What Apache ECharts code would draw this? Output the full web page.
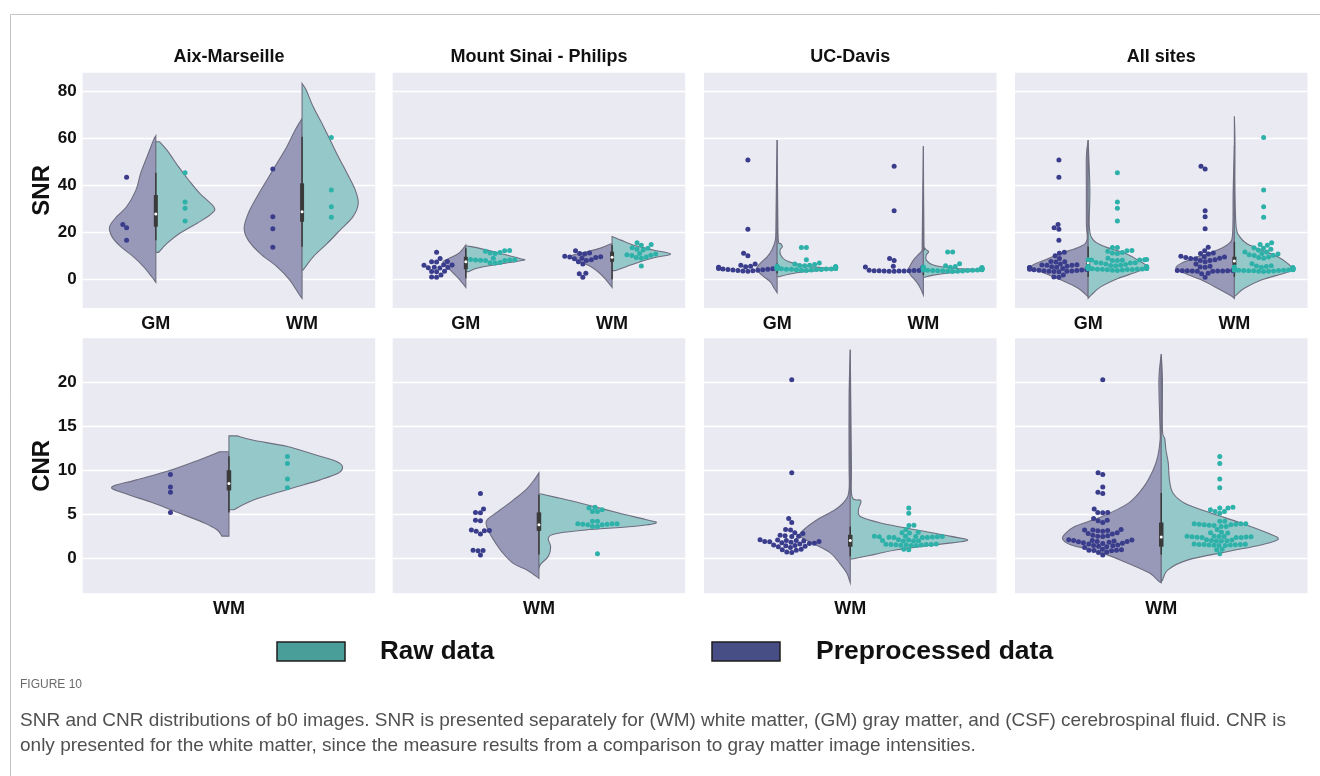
<!DOCTYPE html>
<html>
<head>
<meta charset="utf-8">
<script src="https://cdn.jsdelivr.net/npm/echarts@6/dist/echarts.min.js"></script>
<style>
  html, body { margin: 0; padding: 0; background: #ffffff; }
  #chart { width: 1320px; height: 776px; }
</style>
</head>
<body>
<div id="chart"></div>
<script>
// ---------- categories, ticks, labels ----------
const sites = ['Aix-Marseille', 'Mount Sinai - Philips', 'UC-Davis', 'All sites'];
const snrTissues = ['GM', 'WM'];
const cnrTissues = ['WM'];
const measureNames = ['SNR', 'CNR'];
const snrTicks = [0, 20, 40, 60, 80];
const cnrTicks = [0, 5, 10, 15, 20];
const snrRange = [-12.2, 88];
const cnrRange = [-4, 25];
const hueNames = ['Raw data', 'Preprocessed data'];

// ---------- per-subject values (swarm points) ----------
const aixSnrGmRaw = [45.4, 32.9, 30.3, 24.8];
const aixSnrGmPre = [43.5, 23.4, 22.0, 16.6];
const aixSnrWmRaw = [60.4, 38.0, 30.9, 26.4];
const aixSnrWmPre = [47.0, 26.7, 21.5, 13.7];
const aixCnrRaw = [11.55, 10.75, 9.0, 8.0];
const aixCnrPre = [9.5, 8.1, 7.5, 5.2];

const sinaiSnrGmRaw = [12.3, 12.2, 12.0, 11.4, 11.2, 11.0, 9.0, 8.4, 8.3, 8.2, 8.2, 8.1, 8.0, 8.0, 7.2, 7.1, 7.0];
const sinaiSnrGmPre = [11.5, 8.9, 7.6, 7.5, 7.4, 6.2, 6.1, 6.0, 5.1, 5.0, 4.9, 4.8, 3.4, 3.3, 3.2, 1.9, 1.0, 0.9];
const sinaiSnrWmRaw = [15.6, 14.8, 14.5, 13.5, 13.2, 12.8, 12.5, 11.0, 10.8, 10.5, 10.3, 10.2, 9.5, 9.3, 9.0, 5.7];
const sinaiSnrWmPre = [12.2, 11.2, 11.0, 10.8, 9.8, 9.6, 9.5, 9.3, 9.0, 8.8, 8.3, 8.0, 7.5, 6.5, 2.6, 2.4, 0.9];
const sinaiCnrRaw = [5.8, 5.7, 5.5, 5.3, 5.3, 4.2, 4.2, 3.9, 3.9, 3.9, 3.85, 3.85, 3.8, 3.8, 3.6, 3.6, 0.5];
const sinaiCnrPre = [7.35, 5.6, 5.2, 5.15, 4.3, 4.25, 3.2, 3.15, 3.1, 3.05, 2.75, 0.9, 0.88, 0.85, 0.35];

const davisSnrGmRaw = [13.6, 13.6, 8.3, 7.0, 6.5, 6.3, 6.0, 5.9, 5.8, 5.6, 5.5, 5.4, 5.3, 5.2, 5.1, 5.0, 4.9, 4.8, 4.8, 4.7, 4.6, 4.6, 4.5, 4.5, 4.4, 4.4, 4.3, 4.3, 4.2, 4.2, 4.1, 4.0, 3.9, 3.8];
const davisSnrGmPre = [50.8, 21.3, 11.1, 10.0, 6.5, 6.0, 5.6, 5.4, 5.2, 5.0, 4.9, 4.8, 4.6, 4.5, 4.4, 4.3, 4.2, 4.1, 4.0, 3.9, 3.8, 3.7, 3.6, 3.5];
const davisSnrWmRaw = [11.6, 11.6, 6.6, 5.8, 5.5, 5.3, 5.2, 5.0, 4.9, 4.8, 4.7, 4.6, 4.5, 4.5, 4.4, 4.4, 4.3, 4.3, 4.2, 4.2, 4.1, 4.1, 4.0, 4.0, 3.9, 3.9, 3.8, 3.8, 3.7, 3.7, 3.6, 3.5, 3.4, 3.3];
const davisSnrWmPre = [48.2, 29.2, 8.9, 8.0, 5.6, 5.3, 5.2, 3.9, 3.8, 3.8, 3.7, 3.7, 3.7, 3.6, 3.6, 3.6, 3.5, 3.5];
const davisCnrRaw = [5.7, 5.1, 3.75, 3.7, 3.25, 2.95, 2.9, 2.85, 2.5, 2.48, 2.46, 2.45, 2.44, 2.42, 2.4, 2.38, 2.36, 2.35, 2.34, 2.1, 2.05, 2.0, 1.98, 1.96, 1.95, 1.6, 1.58, 1.56, 1.55, 1.54, 1.52, 1.5, 1.48, 1.46, 1.45, 1.44, 1.0, 0.95];
const davisCnrPre = [20.3, 9.7, 4.5, 4.05, 3.25, 3.2, 2.9, 2.8, 2.6, 2.55, 2.5, 2.45, 2.1, 2.05, 2.0, 2.0, 1.95, 1.9, 1.9, 1.85, 1.8, 1.75, 1.7, 1.65, 1.6, 1.5, 1.45, 1.4, 1.35, 1.3, 1.2, 1.0, 0.95, 0.9, 0.7, 0.65];

// pooled over the three sites
const allSnrGmRaw = [].concat(aixSnrGmRaw, sinaiSnrGmRaw, davisSnrGmRaw);
const allSnrGmPre = [].concat(aixSnrGmPre, sinaiSnrGmPre, davisSnrGmPre);
const allSnrWmRaw = [].concat(aixSnrWmRaw, sinaiSnrWmRaw, davisSnrWmRaw);
const allSnrWmPre = [].concat(aixSnrWmPre, sinaiSnrWmPre, davisSnrWmPre);
const allCnrRaw = [].concat(aixCnrRaw, sinaiCnrRaw, davisCnrRaw);
const allCnrPre = [].concat(aixCnrPre, sinaiCnrPre, davisCnrPre);

// ---------- violin half profiles: [value, relative half width] ----------
const aixSnrGmPreKde = [[61.1,0],[59.3,.04],[52.2,.15],[45.1,.26],[38.0,.34],[30.9,.50],[26.7,.67],[22.4,.79],[18.2,.75],[13.9,.60],[9.6,.38],[5.4,.21],[1.1,.07],[-1.3,0]];
const aixSnrGmRawKde = [[58.6,.06],[55.0,.19],[47.9,.39],[42.3,.56],[36.6,.75],[30.9,.99],[28.1,.96],[23.8,.70],[19.6,.41],[15.3,.19],[11.5,.05]];
const aixSnrWmPreKde = [[68.5,0],[63.5,.12],[56.5,.26],[49.4,.43],[42.3,.60],[35.2,.77],[28.1,.92],[21.7,.99],[16.7,.92],[11.1,.72],[5.4,.43],[-0.3,.21],[-6.0,.06],[-8.1,0]];
const aixSnrWmRawKde = [[83.4,0],[80.6,.07],[73.5,.19],[66.4,.34],[59.3,.48],[52.2,.62],[45.1,.77],[38.0,.91],[32.3,.96],[26.7,.87],[21.0,.65],[15.3,.43],[9.6,.19],[4.0,.02]];
const aixCnrPreKde = [[12.1,.08],[11.2,.25],[10.0,.50],[8.9,.79],[8.1,1.0],[7.4,.90],[6.25,.64],[5.1,.42],[4.0,.21],[3.2,.10],[2.5,.06]];
const aixCnrRawKde = [[13.9,.07],[13.4,.21],[12.7,.50],[11.7,.75],[11.0,.92],[10.4,.97],[9.7,.94],[8.9,.78],[7.8,.50],[6.6,.21],[5.5,.04]];

const sinaiSnrGmPreKde = [[14.6,0],[11.1,.12],[8.9,.29],[7.5,.39],[5.4,.32],[2.6,.21],[-0.3,.10],[-3.4,0]];
const sinaiSnrGmRawKde = [[14.2,.03],[13.2,.24],[11.1,.58],[8.9,.92],[8.2,1.0],[7.2,.75],[6.1,.48],[4.7,.19],[3.3,.05]];
const sinaiSnrWmPreKde = [[15.3,0],[13.2,.21],[11.1,.55],[9.6,.72],[7.5,.55],[5.4,.36],[2.6,.21],[-0.3,.10],[-3.4,0]];
const sinaiSnrWmRawKde = [[18.2,0],[16.7,.15],[14.6,.36],[12.5,.70],[10.8,1.0],[9.4,.75],[7.5,.48],[5.4,.24],[3.7,.05]];
const sinaiCnrPreKde = [[9.7,0],[8.9,.04],[7.8,.11],[6.6,.22],[5.5,.33],[4.4,.44],[3.8,.45],[2.8,.42],[1.7,.37],[0.6,.31],[-0.6,.22],[-1.3,.11],[-2.1,.02],[-2.3,0]];
const sinaiCnrRawKde = [[7.3,.02],[6.8,.18],[6.1,.40],[5.1,.69],[4.4,.91],[4.0,1.0],[3.6,.80],[3.2,.40],[2.8,.15],[2.3,.08],[1.3,.10],[0.2,.08],[-0.6,.02],[-1.1,0]];

const davisSnrGmPreKde = [[59.3,0],[45.1,.01],[23.8,.02],[16.7,.03],[12.5,.09],[9.6,.17],[6.8,.29],[4.3,.35],[1.8,.26],[-1.0,.12],[-3.8,.05],[-5.7,0]];
const davisSnrGmRawKde = [[59.3,0],[30.9,.01],[16.7,.02],[15.3,.06],[13.9,.09],[12.5,.05],[10.4,.06],[8.2,.14],[6.8,.29],[5.4,.56],[4.5,.99],[3.7,.68],[2.6,.29],[1.1,.03]];
const davisSnrWmPreKde = [[56.7,0],[16.7,.02],[12.5,.02],[10.4,.09],[8.2,.17],[6.1,.22],[4.0,.26],[1.8,.22],[-1.0,.12],[-3.8,.05],[-6.7,0]];
const davisSnrWmRawKde = [[56.7,0],[16.7,.01],[13.2,.03],[11.8,.09],[10.4,.05],[8.2,.05],[6.1,.17],[4.7,.51],[4.0,1.0],[3.0,.56],[1.8,.17],[0.9,.03]];
const davisCnrPreKde = [[23.7,0],[18.4,.01],[10.8,.01],[7.8,.01],[6.6,.04],[5.5,.13],[4.4,.28],[3.2,.40],[2.5,.43],[1.7,.32],[0.6,.17],[-0.6,.09],[-1.7,.03],[-2.8,0]];
const davisCnrRawKde = [[23.7,0],[10.8,.01],[7.0,.015],[6.55,.09],[5.5,.07],[4.7,.09],[4.0,.26],[3.2,.57],[2.5,.85],[2.0,1.0],[1.5,.71],[0.95,.40],[0.4,.20],[-0.1,.02]];

const allSnrGmPreKde = [[59.3,0],[52.2,.03],[38.0,.03],[23.8,.03],[16.7,.02],[13.9,.14],[11.1,.46],[8.2,.74],[5.4,.97],[2.6,.74],[-0.3,.46],[-3.8,.17],[-7.4,0]];
const allSnrGmRawKde = [[59.3,0],[38.0,.03],[22.4,.02],[16.7,.09],[13.9,.29],[11.1,.63],[8.2,.85],[5.4,1.0],[3.3,.85],[0.4,.51],[-3.1,.22],[-6.7,.05],[-8.1,0]];
const allSnrWmPreKde = [[57.2,0],[38.0,.02],[19.6,.03],[15.3,.09],[12.5,.29],[9.6,.63],[6.8,.91],[4.7,1.0],[2.6,.85],[-0.3,.56],[-3.8,.29],[-7.4,.03],[-8.1,0]];
const allSnrWmRawKde = [[69.5,0],[59.3,.01],[38.0,.01],[22.4,.03],[18.2,.09],[15.3,.21],[12.5,.46],[9.6,.74],[6.8,.91],[4.3,.99],[2.6,.85],[-0.3,.46],[-3.8,.17],[-6.7,.03],[-7.4,0]];
const allCnrPreKde = [[23.2,0],[20.3,.02],[14.6,.01],[13.4,.01],[11.55,.03],[10.0,.07],[8.1,.15],[6.25,.28],[4.7,.51],[3.6,.74],[2.65,.83],[2.1,.84],[1.5,.77],[0.6,.51],[-0.6,.28],[-1.7,.10],[-2.65,.02],[-2.8,0]];
const allCnrRawKde = [[23.2,0],[20.3,.01],[14.6,.01],[13.6,.03],[12.3,.04],[10.8,.06],[8.9,.07],[7.4,.10],[6.25,.20],[5.1,.43],[4.0,.68],[2.85,.91],[2.15,1.0],[1.5,.85],[0.75,.57],[-0.2,.23],[-1.3,.06],[-2.5,.01],[-2.65,0]];

// ---------- inner box: [lower whisker, Q1, median, Q3, upper whisker] ----------
const aixSnrGmBox = [16.7, 22.4, 27.8, 35.9, 45.4];
const aixSnrWmBox = [13.9, 24.5, 28.8, 40.9, 60.7];
const aixCnrBox = [5.2, 7.7, 8.5, 10.0, 11.6];
const sinaiSnrGmBox = [0.5, 4.3, 7.5, 9.6, 13.2];
const sinaiSnrWmBox = [0.0, 7.5, 9.4, 11.8, 14.6];
const sinaiCnrBox = [0.4, 3.1, 3.8, 5.2, 7.2];
const davisSnrGmBox = [2.6, 3.7, 4.5, 5.4, 6.8];
const davisSnrWmBox = [1.8, 3.3, 4.0, 4.7, 6.1];
const davisCnrBox = [0.2, 1.3, 2.0, 2.65, 3.6];
const allSnrGmBox = [1.0, 5.4, 7.1, 8.9, 14.0];
const allSnrWmBox = [1.1, 6.1, 7.8, 9.6, 16.0];
const allCnrBox = [0.4, 1.3, 2.4, 4.05, 7.4];

// ---------- panel assembly ----------
const panels = [
  { row: 0, col: 0, cats: snrTissues, raw: [aixSnrGmRaw, aixSnrWmRaw], pre: [aixSnrGmPre, aixSnrWmPre],
    rawKde: [aixSnrGmRawKde, aixSnrWmRawKde], preKde: [aixSnrGmPreKde, aixSnrWmPreKde], box: [aixSnrGmBox, aixSnrWmBox] },
  { row: 0, col: 1, cats: snrTissues, raw: [sinaiSnrGmRaw, sinaiSnrWmRaw], pre: [sinaiSnrGmPre, sinaiSnrWmPre],
    rawKde: [sinaiSnrGmRawKde, sinaiSnrWmRawKde], preKde: [sinaiSnrGmPreKde, sinaiSnrWmPreKde], box: [sinaiSnrGmBox, sinaiSnrWmBox] },
  { row: 0, col: 2, cats: snrTissues, raw: [davisSnrGmRaw, davisSnrWmRaw], pre: [davisSnrGmPre, davisSnrWmPre],
    rawKde: [davisSnrGmRawKde, davisSnrWmRawKde], preKde: [davisSnrGmPreKde, davisSnrWmPreKde], box: [davisSnrGmBox, davisSnrWmBox] },
  { row: 0, col: 3, cats: snrTissues, raw: [allSnrGmRaw, allSnrWmRaw], pre: [allSnrGmPre, allSnrWmPre],
    rawKde: [allSnrGmRawKde, allSnrWmRawKde], preKde: [allSnrGmPreKde, allSnrWmPreKde], box: [allSnrGmBox, allSnrWmBox] },
  { row: 1, col: 0, cats: cnrTissues, raw: [aixCnrRaw], pre: [aixCnrPre], rawKde: [aixCnrRawKde], preKde: [aixCnrPreKde], box: [aixCnrBox] },
  { row: 1, col: 1, cats: cnrTissues, raw: [sinaiCnrRaw], pre: [sinaiCnrPre], rawKde: [sinaiCnrRawKde], preKde: [sinaiCnrPreKde], box: [sinaiCnrBox] },
  { row: 1, col: 2, cats: cnrTissues, raw: [davisCnrRaw], pre: [davisCnrPre], rawKde: [davisCnrRawKde], preKde: [davisCnrPreKde], box: [davisCnrBox] },
  { row: 1, col: 3, cats: cnrTissues, raw: [allCnrRaw], pre: [allCnrPre], rawKde: [allCnrRawKde], preKde: [allCnrPreKde], box: [allCnrBox] }
];

// ---------- layout & style ----------
const FONT = "'Liberation Sans', Arial, sans-serif";
const CAPTION_FONT = "'Liberation Sans', Arial, sans-serif";
const colLeft = [82.7, 392.7, 704, 1015];
const panelWidth = 292.5;
const rowTop = [72.7, 338.3];
const rowHeight = [235.3, 255];
const rowTicks = [snrTicks, cnrTicks];
const rowRange = [snrRange, cnrRange];

const rawSwatch = '#4A9E9A', preSwatch = '#474E85';
const rawFill = '#95C9C9', preFill = '#9898B9';
const rawDot = '#2DB1A9', preDot = '#3A3C8C';
const outline = '#6E6E80';
const innerColor = '#3A3A3A';
const dotRadius = 2.5;
const dotGap = 5.0;
const dodgeShift = 0.2;   // hue offset, in category bands
const swarmHalfWidth = 0.2; // swarm gutter on each side of a hue centre, in category bands

// smooth half-violin outline through the profile points (pixel space)
function halfViolinPath(cx, pts, side) {
  const clampX = x => side > 0 ? Math.max(x, cx) : Math.min(x, cx);
  let d = 'M' + cx + ',' + pts[0][1] + 'L' + pts[0][0] + ',' + pts[0][1];
  for (let i = 0; i < pts.length - 1; i++) {
    const p0 = pts[Math.max(i - 1, 0)], p1 = pts[i], p2 = pts[i + 1], p3 = pts[Math.min(i + 2, pts.length - 1)];
    const c1x = clampX(p1[0] + (p2[0] - p0[0]) / 6), c1y = p1[1] + (p2[1] - p0[1]) / 6;
    const c2x = clampX(p2[0] - (p3[0] - p1[0]) / 6), c2y = p2[1] - (p3[1] - p1[1]) / 6;
    d += 'C' + c1x + ',' + c1y + ',' + c2x + ',' + c2y + ',' + p2[0] + ',' + p2[1];
  }
  d += 'L' + cx + ',' + pts[pts.length - 1][1] + 'Z';
  return d;
}

function violinRenderer(profiles, side, fill) {
  return function (params, api) {
    const cat = api.value(0);
    const prof = profiles[params.dataIndex];
    const half = 0.4 * api.size([1, 0])[0];
    const cx = api.coord([cat, prof[0][0]])[0];
    const pts = prof.map(function (p) {
      const c = api.coord([cat, p[0]]);
      return [cx + side * p[1] * half, c[1]];
    });
    return {
      type: 'path',
      shape: { pathData: halfViolinPath(cx, pts, side) },
      style: { fill: fill, stroke: outline, lineWidth: 1.1 }
    };
  };
}

function boxRenderer(boxWidth) {
  return function (params, api) {
    const cat = api.value(0);
    const lo = api.coord([cat, api.value(1)]);
    const q1 = api.coord([cat, api.value(2)]);
    const md = api.coord([cat, api.value(3)]);
    const q3 = api.coord([cat, api.value(4)]);
    const hi = api.coord([cat, api.value(5)]);
    const x = lo[0];
    return {
      type: 'group',
      children: [
        { type: 'line', shape: { x1: x, y1: hi[1], x2: x, y2: lo[1] }, style: { stroke: innerColor, lineWidth: 1.5 } },
        { type: 'line', shape: { x1: x, y1: q3[1], x2: x, y2: q1[1] }, style: { stroke: innerColor, lineWidth: boxWidth, lineCap: 'butt' } },
        { type: 'circle', shape: { cx: x, cy: md[1], r: 1.5 }, style: { fill: '#ffffff' } }
      ]
    };
  };
}

// beeswarm placement: lowest values first, each point as close to the centre as it fits;
// points that would fall outside the gutter are pinned to it
function beeswarm(ys, d, limit) {
  const order = ys.map((y, i) => i).sort((a, b) => ys[b] - ys[a]);
  const placed = [];
  const out = new Array(ys.length);
  order.forEach(function (i) {
    const y = ys[i];
    const cands = [0];
    placed.forEach(function (p) {
      const dy = Math.abs(p.y - y);
      if (dy < d) {
        const dx = Math.sqrt(d * d - dy * dy);
        cands.push(p.x + dx, p.x - dx);
      }
    });
    cands.sort((a, b) => Math.abs(a) - Math.abs(b) || a - b);
    let best = cands[cands.length - 1];
    for (const c of cands) {
      if (placed.every(p => (p.x - c) * (p.x - c) + (p.y - y) * (p.y - y) >= d * d - 0.01)) { best = c; break; }
    }
    placed.push({ x: best, y: y });
    out[i] = best;
  });
  return out.map(x => Math.max(-limit, Math.min(limit, x)));
}

function swarmRenderer(groups, dodge, color) {
  const cache = {};
  return function (params, api) {
    const cat = api.value(0), j = api.value(2);
    const cs = params.coordSys;
    const band = api.size([1, 0])[0];
    const key = cat + '|' + cs.x + '|' + cs.y + '|' + cs.width + '|' + cs.height;
    if (!cache[key]) {
      const ys = groups[cat].map(v => api.coord([cat, v])[1]);
      cache[key] = beeswarm(ys, dotGap, swarmHalfWidth * band);
    }
    const base = api.coord([cat, api.value(1)]);
    return {
      type: 'circle',
      shape: { cx: base[0] + dodge * band + cache[key][j], cy: base[1], r: dotRadius },
      style: { fill: color }
    };
  };
}

// ---------- option ----------
const grids = [], xAxes = [], yAxes = [], series = [];

panels.forEach(function (p, g) {
  grids.push({
    left: colLeft[p.col], top: rowTop[p.row], width: panelWidth, height: rowHeight[p.row],
    show: true, backgroundColor: '#EAEAF2', borderWidth: 0, containLabel: false, outerBoundsMode: 'none'
  });
  xAxes.push({
    type: 'category', gridIndex: g, data: p.cats,
    axisLine: { show: false }, axisTick: { show: false }, splitLine: { show: false },
    axisLabel: { fontSize: 18, fontWeight: 'bold', color: '#111', margin: 7, fontFamily: FONT }
  });
  yAxes.push({
    type: 'value', gridIndex: g, min: rowRange[p.row][0], max: rowRange[p.row][1],
    axisLine: { show: false },
    axisTick: { show: false, customValues: rowTicks[p.row] },
    axisLabel: { show: p.col === 0, customValues: rowTicks[p.row], fontSize: 17, fontWeight: 'bold', color: '#111', margin: 6, fontFamily: FONT },
    splitLine: { show: true, lineStyle: { color: '#ffffff', width: 1.3 } },
    name: p.col === 0 ? measureNames[p.row] : '',
    nameLocation: 'middle', nameRotate: 90, nameGap: 26,
    nameTextStyle: { fontSize: 24, fontWeight: 'bold', color: '#111', fontFamily: FONT }
  });

  const cats = p.cats.map((c, i) => i);
  series.push({
    type: 'custom', name: hueNames[1], xAxisIndex: g, yAxisIndex: g, z: 2, silent: true,
    renderItem: violinRenderer(p.preKde, -1, preFill),
    data: cats.map(i => [i, p.box[i][2]])
  });
  series.push({
    type: 'custom', name: hueNames[0], xAxisIndex: g, yAxisIndex: g, z: 2, silent: true,
    renderItem: violinRenderer(p.rawKde, 1, rawFill),
    data: cats.map(i => [i, p.box[i][2]])
  });
  series.push({
    type: 'custom', name: 'box', xAxisIndex: g, yAxisIndex: g, z: 3, silent: true,
    renderItem: boxRenderer(p.row === 0 ? 4 : 4.5),
    data: cats.map(i => [i].concat(p.box[i]))
  });
  series.push({
    type: 'custom', name: hueNames[1], xAxisIndex: g, yAxisIndex: g, z: 4, silent: true,
    renderItem: swarmRenderer(p.pre, -dodgeShift, preDot),
    data: [].concat.apply([], p.pre.map((vals, i) => vals.map((v, j) => [i, v, j])))
  });
  series.push({
    type: 'custom', name: hueNames[0], xAxisIndex: g, yAxisIndex: g, z: 4, silent: true,
    renderItem: swarmRenderer(p.raw, dodgeShift, rawDot),
    data: [].concat.apply([], p.raw.map((vals, i) => vals.map((v, j) => [i, v, j])))
  });
});

const titles = sites.map((s, i) => ({
  text: s, left: colLeft[i] + panelWidth / 2, top: 48, textAlign: 'center', padding: 0,
  textStyle: { fontSize: 18, fontWeight: 'bold', color: '#111', fontFamily: FONT }
}));

const graphics = [
  { type: 'rect', shape: { x: 10.5, y: 14.5, width: 1340, height: 800 }, style: { fill: 'none', stroke: '#C4C4C4', lineWidth: 1 }, silent: true },
  // legend
  { type: 'rect', shape: { x: 277, y: 642, width: 68, height: 19 }, style: { fill: rawSwatch, stroke: '#1E1E1E', lineWidth: 1.5 } },
  { type: 'text', x: 380, y: 652, style: { text: hueNames[0], font: 'bold 26px ' + FONT, fill: '#111', textAlign: 'left', textVerticalAlign: 'middle', align: 'left', verticalAlign: 'middle' } },
  { type: 'rect', shape: { x: 712, y: 642, width: 68, height: 19 }, style: { fill: preSwatch, stroke: '#1E1E1E', lineWidth: 1.5 } },
  { type: 'text', x: 816, y: 652, style: { text: hueNames[1], font: 'bold 26.5px ' + FONT, fill: '#111', textAlign: 'left', textVerticalAlign: 'middle', align: 'left', verticalAlign: 'middle' } },
  // caption
  { type: 'text', x: 20, y: 685, style: { text: 'FIGURE 10', font: '12px ' + CAPTION_FONT, fill: '#6A6A6A', textVerticalAlign: 'middle', verticalAlign: 'middle' } },
  { type: 'text', x: 20, y: 721, style: { text: 'SNR and CNR distributions of b0 images. SNR is presented separately for (WM) white matter, (GM) gray matter, and (CSF) cerebrospinal fluid. CNR is', font: '19px ' + CAPTION_FONT, fill: '#505050', textVerticalAlign: 'middle', verticalAlign: 'middle' } },
  { type: 'text', x: 20, y: 746, style: { text: 'only presented for the white matter, since the measure results from a comparison to gray matter image intensities.', font: '19px ' + CAPTION_FONT, fill: '#505050', textVerticalAlign: 'middle', verticalAlign: 'middle' } }
];

const chart = echarts.init(document.getElementById('chart'), null, { renderer: 'canvas' });
chart.setOption({
  animation: false,
  backgroundColor: '#ffffff',
  title: titles,
  grid: grids,
  xAxis: xAxes,
  yAxis: yAxes,
  series: series,
  graphic: graphics
});
</script>
</body>
</html>
